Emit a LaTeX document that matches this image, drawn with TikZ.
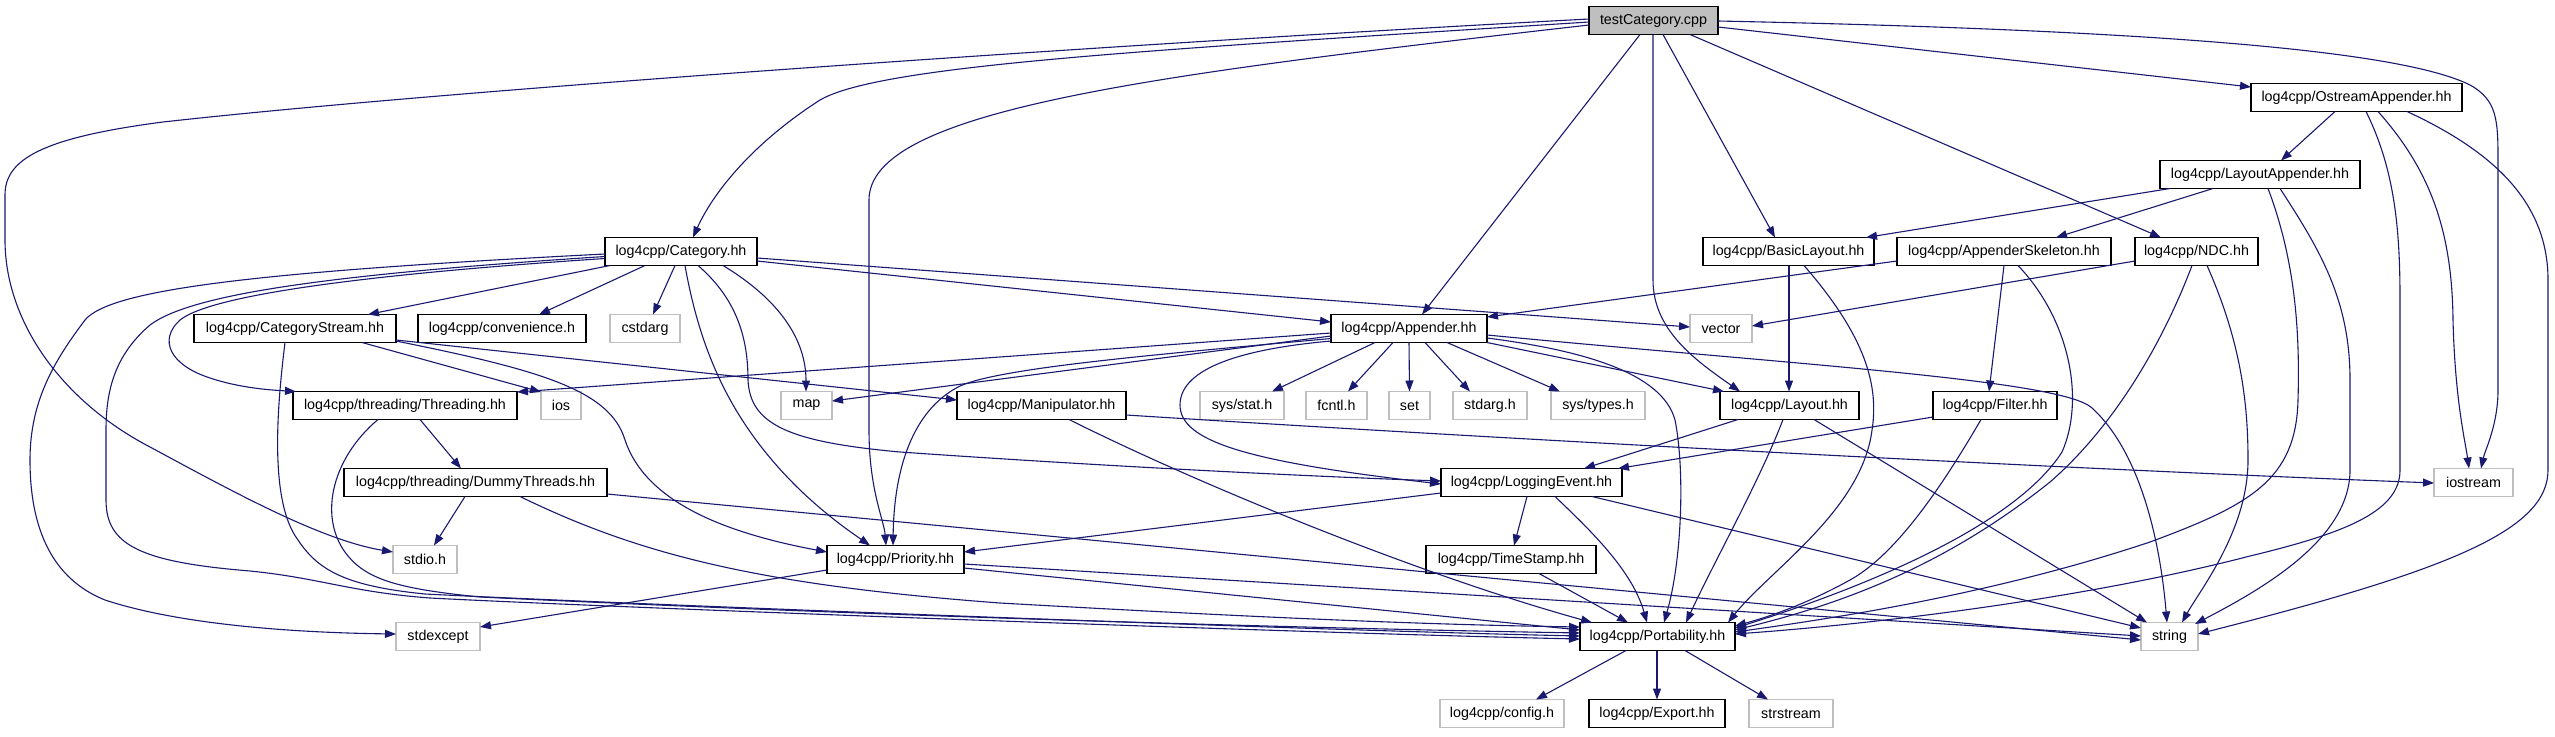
\documentclass[tikz,border=0pt]{standalone}
\usepackage{fontspec}
\setmainfont{Liberation Sans}
\usetikzlibrary{arrows.meta}
\definecolor{edgeblue}{HTML}{191970}
\definecolor{lgray}{HTML}{BFBFBF}
\begin{document}
\begin{tikzpicture}[x=1pt,y=-1pt,
 box/.style={draw=black, line width=1.3pt, fill=white, minimum height=28pt, inner sep=0pt, font=\fontsize{14.3}{17}\selectfont},
 gbox/.style={box, draw=lgray},
 rootbox/.style={box, fill=lgray},
 e/.style={draw=edgeblue, line width=1.1pt, -{Triangle[length=11pt,width=8pt]}},
]
\path[use as bounding box, fill=white] (0,0) rectangle (2555,736);
% nodes
\node[rootbox, minimum width=129pt] (root) at (1653.5,20.5) {testCategory.cpp};
\node[box, minimum width=211pt] (ostr) at (2356.5,97.5) {log4cpp/OstreamAppender.hh};
\node[box, minimum width=200pt] (lapp) at (2260,174.5) {log4cpp/LayoutAppender.hh};
\node[box, minimum width=152pt] (cat) at (681,251.5) {log4cpp/Category.hh};
\node[box, minimum width=171pt] (basic) at (1788.5,251.5) {log4cpp/BasicLayout.hh};
\node[box, minimum width=214pt] (askel) at (2004,251.5) {log4cpp/AppenderSkeleton.hh};
\node[box, minimum width=123pt] (ndc) at (2196.5,251.5) {log4cpp/NDC.hh};
\node[box, minimum width=202pt] (cstream) at (295,328.5) {log4cpp/CategoryStream.hh};
\node[box, minimum width=168pt] (conv) at (502,328.5) {log4cpp/convenience.h};
\node[gbox, minimum width=70pt] (cstdarg) at (645,328.5) {cstdarg};
\node[box, minimum width=156pt] (app) at (1409,328.5) {log4cpp/Appender.hh};
\node[gbox, minimum width=62pt] (vector) at (1721,328.5) {vector};
\node[box, minimum width=224pt] (thr) at (405,405.5) {log4cpp/threading/Threading.hh};
\node[gbox, minimum width=40pt] (ios) at (561,405.5) {ios};
\node[gbox, minimum width=51pt] (map) at (806.5,405.5) {map};
\node[box, minimum width=169pt] (manip) at (1041.5,405.5) {log4cpp/Manipulator.hh};
\node[gbox, minimum width=84pt] (sysstat) at (1242,405.5) {sys/stat.h};
\node[gbox, minimum width=61pt] (fcntl) at (1336.5,405.5) {fcntl.h};
\node[gbox, minimum width=41pt] (set) at (1409.5,405.5) {set};
\node[gbox, minimum width=74pt] (stdarg) at (1490,405.5) {stdarg.h};
\node[gbox, minimum width=94pt] (systypes) at (1598,405.5) {sys/types.h};
\node[box, minimum width=139pt] (layout) at (1789.5,405.5) {log4cpp/Layout.hh};
\node[box, minimum width=124pt] (filter) at (1995,405.5) {log4cpp/Filter.hh};
\node[box, minimum width=263pt] (dummy) at (475.5,482.5) {log4cpp/threading/DummyThreads.hh};
\node[box, minimum width=181pt] (logev) at (1531.5,482.5) {log4cpp/LoggingEvent.hh};
\node[gbox, minimum width=79pt] (iostream) at (2473.5,482.5) {iostream};
\node[gbox, minimum width=64pt] (stdio) at (425,559.5) {stdio.h};
\node[box, minimum width=137pt] (prio) at (895.5,559.5) {log4cpp/Priority.hh};
\node[box, minimum width=170pt] (tstamp) at (1511,559.5) {log4cpp/TimeStamp.hh};
\node[gbox, minimum width=84pt] (stdexcept) at (438,636.5) {stdexcept};
\node[box, minimum width=155pt] (port) at (1657.5,636.5) {log4cpp/Portability.hh};
\node[gbox, minimum width=57pt] (string) at (2169.5,636.5) {string};
\node[gbox, minimum width=124pt] (config) at (1502,713.5) {log4cpp/config.h};
\node[box, minimum width=136pt] (export) at (1657,713.5) {log4cpp/Export.hh};
\node[gbox, minimum width=84pt] (strstream) at (1791,713.5) {strstream};
% root edges
\draw[e] ([shift={(-64.5,-1.5)}]root.center) .. controls (1100,45) and (450,90) .. (163,122) .. controls (40,138) and (5,160) .. (5,195) -- (5,240) .. controls (5,320) and (60,400) .. (150,447) .. controls (230,490) and (320,540) .. ([shift={(-32,-7.5)}]stdio.center);
\draw[e] ([shift={(-64.5,1.5)}]root.center) .. controls (1150,50) and (880,65) .. (820,100) .. controls (750,145) and (712,195) .. ([shift={(12,-14)}]cat.center);
\draw[e] ([shift={(-64.5,4.5)}]root.center) .. controls (1150,75) and (869,110) .. (869,200) -- (869,430) .. controls (869,490) and (884,520) .. ([shift={(-9.5,-14)}]prio.center);
\draw[e] ([shift={(-13.5,14)}]root.center) -- ([shift={(13,-14)}]app.center);
\draw[e] ([shift={(-0.5,14)}]root.center) -- (1653,280) .. controls (1653,330) and (1695,360) .. ([shift={(-49.5,-14)}]layout.center);
\draw[e] ([shift={(9.5,14)}]root.center) -- ([shift={(-13.5,-14)}]basic.center);
\draw[e] ([shift={(36.5,14)}]root.center) -- ([shift={(-35.5,-14)}]ndc.center);
\draw[e] ([shift={(64.5,6.5)}]root.center) -- ([shift={(-105.5,-10.5)}]ostr.center);
\draw[e] ([shift={(64.5,0.5)}]root.center) .. controls (2150,30) and (2400,50) .. (2470,85) .. controls (2497,100) and (2498,120) .. (2498,160) -- (2498,390) .. controls (2498,425) and (2485,450) .. ([shift={(7.5,-14)}]iostream.center);
% Category edges
\draw[e] ([shift={(-76,2.5)}]cat.center) .. controls (250,272) and (110,290) .. (85,320) .. controls (55,360) and (30,400) .. (30,460) .. controls (30,540) and (60,582) .. (105,600) .. controls (190,628) and (320,633) .. ([shift={(-42,-2.5)}]stdexcept.center);
\draw[e] ([shift={(-76,5)}]cat.center) .. controls (320,275) and (190,295) .. (150,325) .. controls (115,355) and (106,390) .. (106,430) -- (106,500) .. controls (106,545) and (140,562) .. (250,571) .. controls (320,578) and (350,592) .. (430,598) .. controls (600,607) and (1300,633) .. ([shift={(-77.5,2.5)}]port.center);
\draw[e] ([shift={(-76,7)}]cat.center) .. controls (400,272) and (215,292) .. (180,320) .. controls (158,340) and (170,365) .. (210,378) .. controls (240,388) and (270,390) .. ([shift={(-109,-14)}]thr.center);
\draw[e] ([shift={(-71,14)}]cat.center) -- ([shift={(73,-14)}]cstream.center);
\draw[e] ([shift={(-36,14)}]cat.center) -- ([shift={(37,-14)}]conv.center);
\draw[e] ([shift={(-6,14)}]cat.center) -- ([shift={(8,-14)}]cstdarg.center);
\draw[e] ([shift={(4,14)}]cat.center) .. controls (700,350) and (730,420) .. (795,485) .. controls (825,515) and (855,535) .. ([shift={(-25.5,-14)}]prio.center);
\draw[e] ([shift={(17,14)}]cat.center) .. controls (738,300) and (748,340) .. (748,380) .. controls (750,425) and (790,442) .. (900,452) .. controls (1100,466) and (1300,476) .. ([shift={(-90.5,-1.5)}]logev.center);
\draw[e] ([shift={(42,14)}]cat.center) .. controls (780,300) and (806,340) .. ([shift={(-0.5,-14)}]map.center);
\draw[e] ([shift={(76,9.5)}]cat.center) -- ([shift={(-78,-6.5)}]app.center);
\draw[e] ([shift={(76,6.5)}]cat.center) -- ([shift={(-31,-1.5)}]vector.center);
% CategoryStream edges
\draw[e] ([shift={(-10,14)}]cstream.center) .. controls (278,400) and (268,500) .. (298,540) .. controls (318,570) and (345,586) .. (425,594) .. controls (600,603) and (1300,630) .. ([shift={(-77.5,-0.5)}]port.center);
\draw[e] ([shift={(67,14)}]cstream.center) -- ([shift={(-20,-13.5)}]ios.center);
\draw[e] ([shift={(101,12.5)}]cstream.center) .. controls (540,370) and (610,390) .. (625,440) .. controls (645,500) and (720,532) .. ([shift={(-68.5,-7.5)}]prio.center);
\draw[e] ([shift={(101,11.5)}]cstream.center) -- ([shift={(-84.5,-5.5)}]manip.center);
% Appender edges
\draw[e] ([shift={(-78,4.5)}]app.center) -- ([shift={(112,-13.5)}]thr.center);
\draw[e] ([shift={(-78,7.5)}]app.center) -- ([shift={(25.5,-4.5)}]map.center);
\draw[e] ([shift={(-78,10)}]app.center) .. controls (1150,355) and (1000,368) .. (960,386) .. controls (912,410) and (894,470) .. ([shift={(-2.5,-14)}]prio.center);
\draw[e] ([shift={(-78,12.5)}]app.center) .. controls (1230,350) and (1180,372) .. (1180,405) .. controls (1180,442) and (1250,462) .. ([shift={(-90.5,1.5)}]logev.center);
\draw[e] ([shift={(-34,14)}]app.center) -- ([shift={(30,-14)}]sysstat.center);
\draw[e] ([shift={(-16,14)}]app.center) -- ([shift={(11.5,-14)}]fcntl.center);
\draw[e] ([shift={(0,14)}]app.center) -- ([shift={(0,-14)}]set.center);
\draw[e] ([shift={(16,14)}]app.center) -- ([shift={(-20,-14)}]stdarg.center);
\draw[e] ([shift={(38,14)}]app.center) -- ([shift={(-38,-14)}]systypes.center);
\draw[e] ([shift={(78,14)}]app.center) -- ([shift={(-65.5,-14)}]layout.center);
\draw[e] ([shift={(78,9.5)}]app.center) .. controls (1580,350) and (1662,372) .. (1675,420) .. controls (1685,470) and (1682,560) .. ([shift={(6.5,-14)}]port.center);
\draw[e] ([shift={(78,6.5)}]app.center) .. controls (1800,365) and (2062,380) .. (2092,408) .. controls (2140,452) and (2160,540) .. ([shift={(-2.5,-14)}]string.center);
% Threading
\draw[e] ([shift={(15,14)}]thr.center) -- ([shift={(-14.5,-14)}]dummy.center);
\draw[e] ([shift={(-27,14)}]thr.center) .. controls (330,460) and (318,520) .. (348,556) .. controls (368,580) and (400,589) .. (480,597) .. controls (900,617) and (1300,628) .. ([shift={(-77.5,-3.5)}]port.center);
% DummyThreads
\draw[e] ([shift={(-10.5,14)}]dummy.center) -- ([shift={(9,-14)}]stdio.center);
\draw[e] ([shift={(44.5,14)}]dummy.center) .. controls (640,555) and (760,585) .. (1000,603) .. controls (1300,620) and (1450,625) .. ([shift={(-77.5,-9.5)}]port.center);
\draw[e] ([shift={(131.5,11.5)}]dummy.center) -- ([shift={(-28.5,3.5)}]string.center);
% Priority
\draw[e] ([shift={(-68.5,10.5)}]prio.center) -- ([shift={(42,-9.5)}]stdexcept.center);
\draw[e] ([shift={(68.5,8.5)}]prio.center) -- ([shift={(-77.5,-6.5)}]port.center);
\draw[e] ([shift={(68.5,4.5)}]prio.center) -- ([shift={(-28.5,-0.5)}]string.center);
% LoggingEvent
\draw[e] ([shift={(-90.5,10.5)}]logev.center) -- ([shift={(68.5,-7.5)}]prio.center);
\draw[e] ([shift={(-4.5,14)}]logev.center) -- ([shift={(3,-14)}]tstamp.center);
\draw[e] ([shift={(23.5,14)}]logev.center) .. controls (1590,530) and (1632,570) .. ([shift={(-10.5,-14)}]port.center);
\draw[e] ([shift={(60.5,14)}]logev.center) -- ([shift={(-28.5,-8.5)}]string.center);
% TimeStamp
\draw[e] ([shift={(28,14)}]tstamp.center) -- ([shift={(-29.5,-14)}]port.center);
% Manipulator
\draw[e] ([shift={(27.5,14)}]manip.center) .. controls (1200,485) and (1420,575) .. ([shift={(-65.5,-14)}]port.center);
\draw[e] ([shift={(84.5,9.5)}]manip.center) .. controls (1600,445) and (2100,470) .. ([shift={(-39.5,0.5)}]iostream.center);
% Layout
\draw[e] ([shift={(-51.5,14)}]layout.center) -- ([shift={(52.5,-14)}]logev.center);
\draw[e] ([shift={(-6.5,14)}]layout.center) .. controls (1760,480) and (1715,560) .. ([shift={(28.5,-14)}]port.center);
\draw[e] ([shift={(24.5,14)}]layout.center) -- ([shift={(-22.5,-14)}]string.center);
% Filter
\draw[e] ([shift={(-62,11.5)}]filter.center) -- ([shift={(86.5,-14)}]logev.center);
\draw[e] ([shift={(-14,14)}]filter.center) .. controls (1940,490) and (1895,555) .. (1850,580) .. controls (1810,602) and (1775,615) .. ([shift={(77.5,-10.5)}]port.center);
% BasicLayout
\draw[e] ([shift={(0.5,14)}]basic.center) -- ([shift={(-0.5,-14)}]layout.center);
\draw[e] ([shift={(15.5,14)}]basic.center) .. controls (1860,330) and (1880,380) .. (1872,430) .. controls (1862,510) and (1770,570) .. ([shift={(70.5,-14)}]port.center);
% AppenderSkeleton
\draw[e] ([shift={(-107,9.5)}]askel.center) -- ([shift={(78,-11.5)}]app.center);
\draw[e] ([shift={(0,14)}]askel.center) -- ([shift={(-6,-14)}]filter.center);
\draw[e] ([shift={(14,14)}]askel.center) .. controls (2070,320) and (2085,400) .. (2062,452) .. controls (2012,530) and (1850,592) .. ([shift={(77.5,-8.5)}]port.center);
% NDC
\draw[e] ([shift={(-61.5,9.5)}]ndc.center) -- ([shift={(31,-2.5)}]vector.center);
\draw[e] ([shift={(-4.5,14)}]ndc.center) .. controls (2160,350) and (2110,430) .. (2050,482) .. controls (1950,562) and (1850,602) .. ([shift={(77.5,-6.5)}]port.center);
\draw[e] ([shift={(10.5,14)}]ndc.center) .. controls (2240,340) and (2248,400) .. (2248,460) .. controls (2248,530) and (2200,590) .. ([shift={(12.5,-14)}]string.center);
% LayoutAppender
\draw[e] ([shift={(-90,14)}]lapp.center) -- ([shift={(77.5,-14)}]basic.center);
\draw[e] ([shift={(-47,14)}]lapp.center) -- ([shift={(52,-14)}]askel.center);
\draw[e] ([shift={(8,14)}]lapp.center) .. controls (2295,260) and (2300,330) .. (2298,400) .. controls (2296,480) and (2250,505) .. (2150,542) .. controls (2000,592) and (1850,616) .. ([shift={(77.5,-4.5)}]port.center);
\draw[e] ([shift={(20,14)}]lapp.center) .. controls (2320,250) and (2350,300) .. (2350,380) -- (2350,470) .. controls (2350,540) and (2260,590) .. ([shift={(25.5,-12.5)}]string.center);
% OstreamAppender
\draw[e] ([shift={(-21.5,14)}]ostr.center) -- ([shift={(21,-14)}]lapp.center);
\draw[e] ([shift={(9.5,14)}]ostr.center) .. controls (2395,170) and (2400,230) .. (2400,300) -- (2400,470) .. controls (2400,510) and (2350,532) .. (2250,556) .. controls (2100,595) and (1900,622) .. ([shift={(77.5,-2.5)}]port.center);
\draw[e] ([shift={(21.5,14)}]ostr.center) .. controls (2430,170) and (2452,230) .. (2453,320) .. controls (2455,400) and (2465,440) .. ([shift={(-4.5,-14)}]iostream.center);
\draw[e] ([shift={(50.5,14)}]ostr.center) .. controls (2490,150) and (2548,200) .. (2548,280) -- (2548,470) .. controls (2548,530) and (2450,570) .. ([shift={(28.5,-2.5)}]string.center);
% Portability
\draw[e] ([shift={(-31.5,14)}]port.center) -- ([shift={(34,-14)}]config.center);
\draw[e] ([shift={(-0.5,14)}]port.center) -- ([shift={(0,-14)}]export.center);
\draw[e] ([shift={(27.5,14)}]port.center) -- ([shift={(-23,-14)}]strstream.center);
\end{tikzpicture}
\end{document}
